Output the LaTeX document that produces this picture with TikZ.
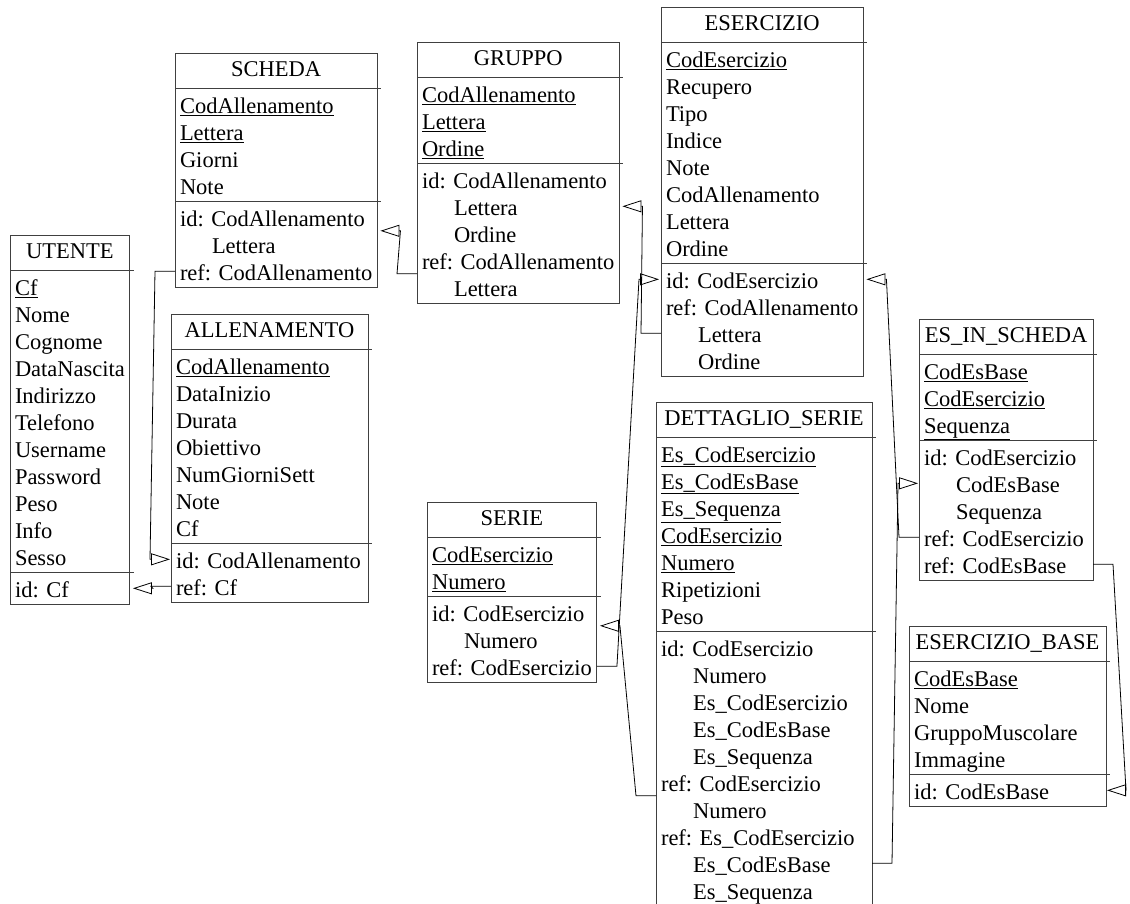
\documentclass[tikz,border=0pt]{standalone}
\usepackage{fontspec}
\setmainfont{Liberation Serif}
\usetikzlibrary{shapes.multipart,arrows.meta}
\newcommand{\tblfont}{\fontsize{22.5}{27}\selectfont\lineskiplimit=-50pt\relax}
\newcommand{\rowstrut}{\rule[-5pt]{0pt}{27pt}}
\newcommand{\ttl}[1]{\rule[-9.5pt]{0pt}{31pt}#1}
\newcommand{\pk}[1]{\rowstrut\smash{\underline{#1}}}
\newcommand{\att}[1]{\rowstrut#1}
\newcommand{\ind}[1]{\rowstrut\hspace*{32pt}#1}
\tikzset{
  tbl/.style={rectangle split,rectangle split parts=3,
    rectangle split part align={center,left,left},
    draw=black!75,line width=0.9pt,anchor=north west,outer sep=0pt,
    inner xsep=5pt,inner ysep=2pt,align=left,font=\tblfont},
  tsep/.style={draw=black!75,line width=0.9pt},
  fk/.style={line width=0.8pt,
    -{Triangle[open,length=19pt,width=12pt,line width=0.8pt]}},
}

\begin{document}
\begin{tikzpicture}[x=1pt,y=-1pt]
  \useasboundingbox (0,0) rectangle (1130,903);
  % tables
  \node[tbl,minimum width=119pt] (utente) at (10,235)
    {\ttl{UTENTE}
     \nodepart{two} \pk{Cf}\\ \att{Nome}\\ \att{Cognome}\\ \att{DataNascita}\\
       \att{Indirizzo}\\ \att{Telefono}\\ \att{Username}\\ \att{Password}\\
       \att{Peso}\\ \att{Info}\\ \att{Sesso}
     \nodepart{three} \att{id: Cf}};
  \node[tbl,minimum width=198pt] (scheda) at (175,53)
    {\ttl{SCHEDA}
     \nodepart{two} \pk{CodAllenamento}\\ \pk{Lettera}\\ \att{Giorni}\\ \att{Note}
     \nodepart{three} \att{id: CodAllenamento}\\ \ind{Lettera}\\
       \att{ref: CodAllenamento}};
  \node[tbl,minimum width=197pt] (allenamento) at (171,314)
    {\ttl{ALLENAMENTO}
     \nodepart{two} \pk{CodAllenamento}\\ \att{DataInizio}\\ \att{Durata}\\
       \att{Obiettivo}\\ \att{NumGiorniSett}\\ \att{Note}\\ \att{Cf}
     \nodepart{three} \att{id: CodAllenamento}\\ \att{ref: Cf}};
  \node[tbl,minimum width=200pt] (gruppo) at (417,42)
    {\ttl{GRUPPO}
     \nodepart{two} \pk{CodAllenamento}\\ \pk{Lettera}\\ \pk{Ordine}
     \nodepart{three} \att{id: CodAllenamento}\\ \ind{Lettera}\\ \ind{Ordine}\\
       \att{ref: CodAllenamento}\\ \ind{Lettera}};
  \node[tbl,minimum width=199pt] (esercizio) at (661,7)
    {\ttl{ESERCIZIO}
     \nodepart{two} \pk{CodEsercizio}\\ \att{Recupero}\\ \att{Tipo}\\ \att{Indice}\\
       \att{Note}\\ \att{CodAllenamento}\\ \att{Lettera}\\ \att{Ordine}
     \nodepart{three} \att{id: CodEsercizio}\\ \att{ref: CodAllenamento}\\
       \ind{Lettera}\\ \ind{Ordine}};
  \node[tbl,minimum width=174pt] (esinscheda) at (919,319)
    {\ttl{ES\_IN\_SCHEDA}
     \nodepart{two} \pk{CodEsBase}\\ \pk{CodEsercizio}\\ \pk{Sequenza}
     \nodepart{three} \att{id: CodEsercizio}\\ \ind{CodEsBase}\\ \ind{Sequenza}\\
       \att{ref: CodEsercizio}\\ \att{ref: CodEsBase}};
  \node[tbl,minimum width=165pt] (serie) at (427,502)
    {\ttl{SERIE}
     \nodepart{two} \pk{CodEsercizio}\\ \pk{Numero}
     \nodepart{three} \att{id: CodEsercizio}\\ \ind{Numero}\\
       \att{ref: CodEsercizio}};
  \node[tbl,minimum width=216pt] (dettaglio) at (656,402)
    {\ttl{\makebox[204pt]{DETTAGLIO\_SERIE}}
     \nodepart{two} \pk{Es\_CodEsercizio}\\ \pk{Es\_CodEsBase}\\ \pk{Es\_Sequenza}\\
       \pk{CodEsercizio}\\ \pk{Numero}\\ \att{Ripetizioni}\\ \att{Peso}
     \nodepart{three} \att{id: CodEsercizio}\\ \ind{Numero}\\ \ind{Es\_CodEsercizio}\\
       \ind{Es\_CodEsBase}\\ \ind{Es\_Sequenza}\\ \att{ref: CodEsercizio}\\
       \ind{Numero}\\ \att{ref: Es\_CodEsercizio}\\ \ind{Es\_CodEsBase}\\
       \ind{Es\_Sequenza}};
  \node[tbl,minimum width=197pt] (esbase) at (909,626)
    {\ttl{ESERCIZIO\_BASE}
     \nodepart{two} \pk{CodEsBase}\\ \att{Nome}\\ \att{GruppoMuscolare}\\
       \att{Immagine}
     \nodepart{three} \att{id: CodEsBase}};
  % separators run a little past the right side
  \foreach \t in {utente,scheda,allenamento,gruppo,esercizio,esinscheda,
                  serie,dettaglio,esbase}
    \draw[tsep] (\t.text split east) -- ++(4,0) (\t.two split east) -- ++(4,0);
  % references
  \draw[fk] ([yshift=-69.5pt]scheda.two split west) -- ++(-20,0)
    -- ([xshift=-21pt,yshift=-15.5pt]allenamento.two split west)
    -- ([xshift=-1pt,yshift=-15.5pt]allenamento.two split west);
  \draw[fk] ([yshift=-42.5pt]allenamento.two split west) -- ++(-20,0)
    -- ([xshift=23pt,yshift=-15.5pt]utente.two split east)
    -- ([xshift=3pt,yshift=-15.5pt]utente.two split east);
  \draw[fk] ([yshift=-110pt]gruppo.two split west) -- ++(-20,0)
    -- ([xshift=23pt,yshift=-29pt]scheda.two split east)
    -- ([xshift=3pt,yshift=-29pt]scheda.two split east);
  \draw[fk] ([yshift=-69.5pt]esercizio.two split west) -- ++(-20,0)
    -- ([xshift=23pt,yshift=-42.5pt]gruppo.two split east)
    -- ([xshift=3pt,yshift=-42.5pt]gruppo.two split east);
  \draw[fk] ([yshift=-69.5pt]serie.two split east) -- ++(20,0)
    -- ([xshift=-22pt,yshift=-15.5pt]esercizio.two split west)
    -- ([xshift=-2pt,yshift=-15.5pt]esercizio.two split west);
  \draw[fk] ([yshift=-164pt]dettaglio.two split west) -- ++(-20,0)
    -- ([xshift=23pt,yshift=-29pt]serie.two split east)
    -- ([xshift=3pt,yshift=-29pt]serie.two split east);
  \draw[fk] ([yshift=-231.5pt]dettaglio.two split east) -- ++(20,0)
    -- ([xshift=-21pt,yshift=-42.5pt]esinscheda.two split west)
    -- ([xshift=-1pt,yshift=-42.5pt]esinscheda.two split west);
  \draw[fk] ([yshift=-96.5pt]esinscheda.two split west) -- ++(-20,0)
    -- ([xshift=23pt,yshift=-15.5pt]esercizio.two split east)
    -- ([xshift=3pt,yshift=-15.5pt]esercizio.two split east);
  \draw[fk] ([yshift=-123.5pt]esinscheda.two split east) -- ++(20,0)
    -- ([xshift=20pt,yshift=-15.5pt]esbase.two split east)
    -- ([xshift=1pt,yshift=-15.5pt]esbase.two split east);
\end{tikzpicture}
\end{document}
